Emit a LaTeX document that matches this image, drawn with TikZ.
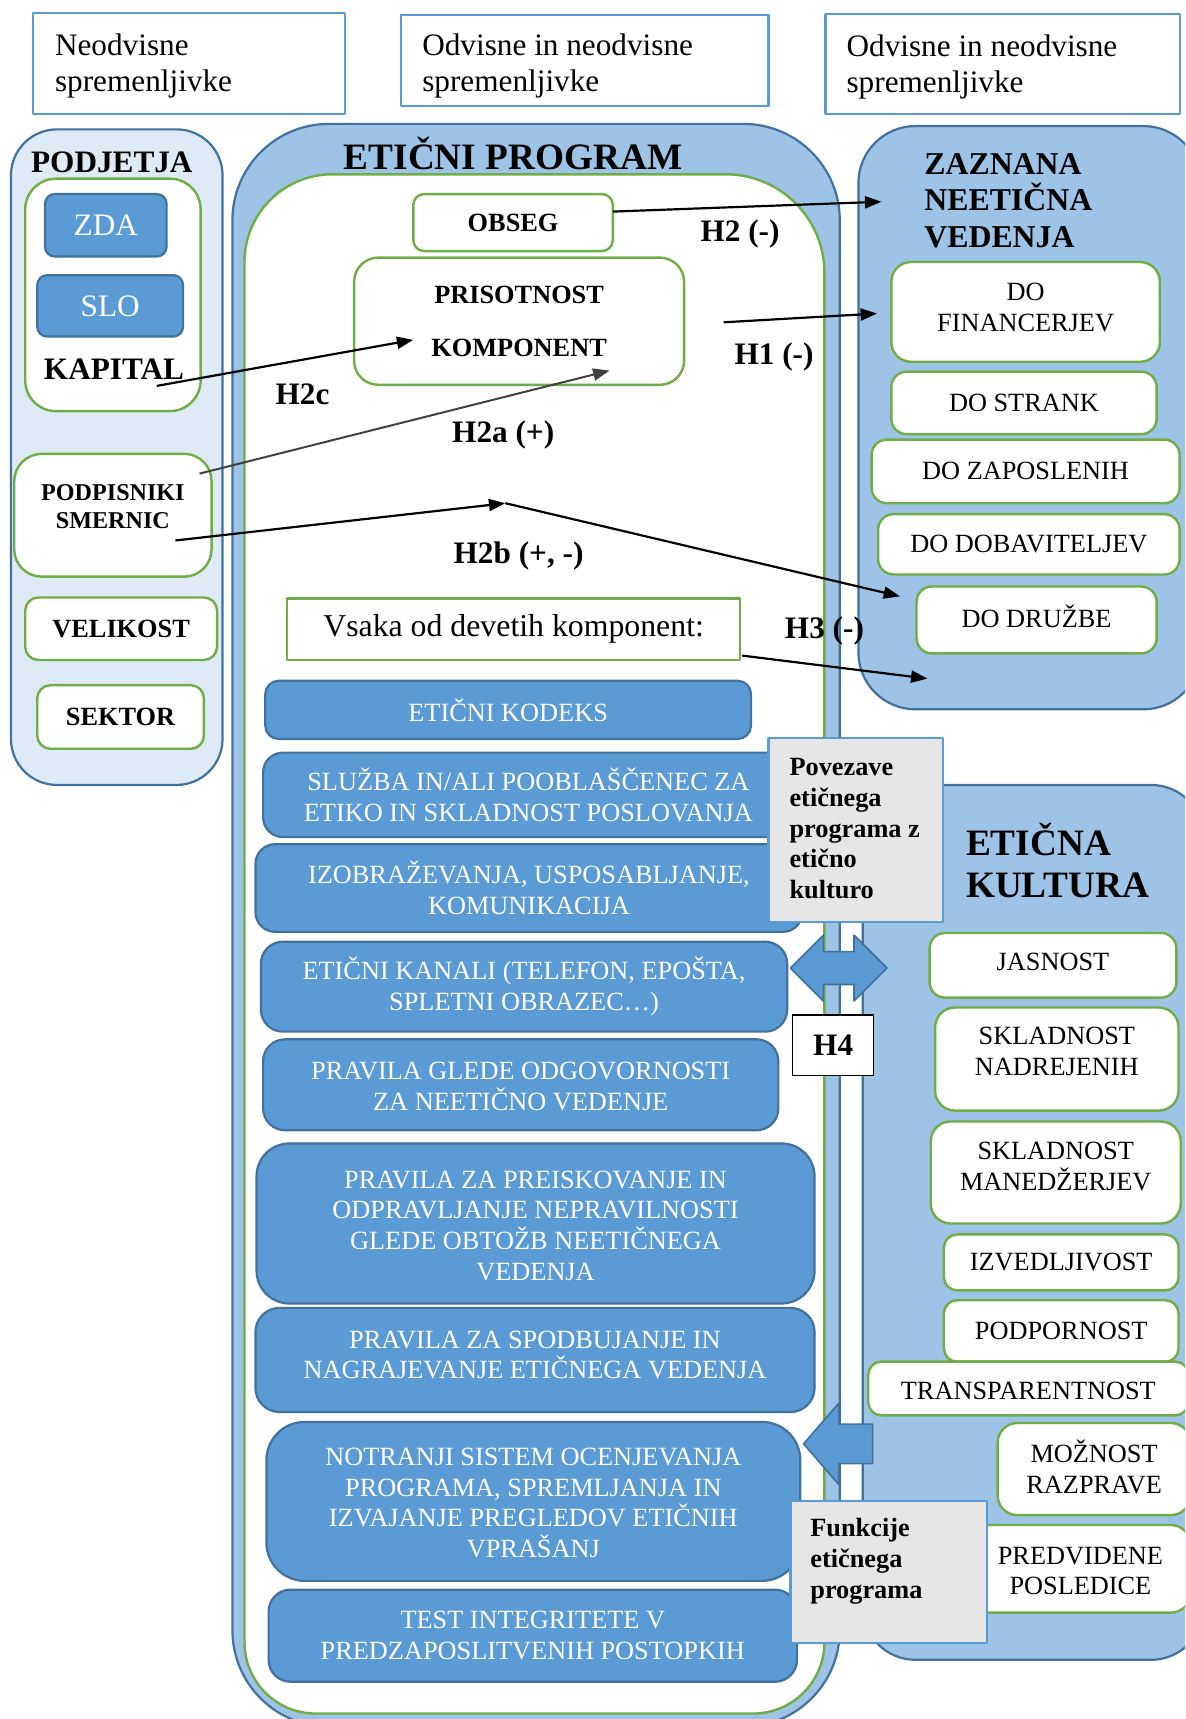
\documentclass[tikz,border=0pt]{standalone}
\usepackage{fontspec}
\setmainfont{Liberation Serif}
\usetikzlibrary{arrows.meta}
\definecolor{bfill}{HTML}{5B9BD5}
\definecolor{bdark}{HTML}{41719C}
\definecolor{pfill}{HTML}{9DC3E6}
\definecolor{lfill}{HTML}{DEEBF7}
\definecolor{gline}{HTML}{70AD47}
\definecolor{gfill}{HTML}{E7E6E6}
\newcommand\myfs[2]{\fontsize{#1}{#2}\selectfont}
\tikzset{
 topbox/.style={draw=bfill, line width=2pt, fill=white, inner sep=0pt},
 toptext/.style={anchor=west, align=left, inner sep=0pt, font=\myfs{28.5}{33}},
 panel/.style={fill=pfill, draw=bdark, line width=2pt},
 gbox/.style={draw=gline, line width=2.2pt, fill=white, inner sep=0pt, align=center},
 bbox/.style={fill=bfill, draw=bdark, line width=2pt, text=white, inner sep=0pt, align=center, font=\myfs{24}{28}},
 greybox/.style={fill=gfill, draw=bfill, line width=2pt, inner sep=0pt},
 lab/.style={font=\bfseries\myfs{28.5}{33}, inner sep=0pt},
 conn/.style={line width=2pt, -{Triangle[length=15pt,width=11pt]}},
 sz/.style 2 args={minimum width=#1pt, minimum height=#2pt},
 rtext/.style={font=\myfs{24}{28}, align=center},
 btext/.style={font=\bfseries\myfs{24}{28}},
}
\begin{document}
\begin{tikzpicture}[x=1pt, y=-1pt, line join=round]
\useasboundingbox (0,0) rectangle (1081,1568);
\clip (0,0) rectangle (1081,1568);
\fill[white] (0,0) rectangle (1081,1568);

% ---------- top boxes
\node[topbox, sz={285}{92}] (t1) at (172.5,58) {};
\node[toptext] (t1t) at (50,60) {Neodvisne\\spremenljivke};
\node[topbox, sz={335}{83}] (t2) at (533.5,55.5) {};
\node[toptext] (t2t) at (385,60.5) {Odvisne in neodvisne\\spremenljivke};
\node[topbox, sz={323}{91}] (t3) at (914.5,58.5) {};
\node[toptext] (t3t) at (772,61) {Odvisne in neodvisne\\spremenljivke};

% ---------- PODJETJA
\draw[fill=lfill, draw=bdark, line width=2pt, rounded corners=42pt] (10,118) rectangle (203,716);
\node[lab] (podj) at (102,148) {PODJETJA};
\node[gbox, sz={160}{212}, rounded corners=28pt] (kapbox) at (103,269) {};
\node[bbox, sz={111}{57}, rounded corners=9pt, font=\myfs{28.5}{33}] (zda) at (96.5,205.5) {ZDA};
\node[bbox, sz={133}{56}, rounded corners=9pt, font=\myfs{28.5}{33}] (slo) at (100.5,279) {SLO};
\node[lab] (kap) at (104,337) {KAPITAL};
\node[gbox, sz={180}{112}, rounded corners=25pt] (podp) at (103,470) {};
\node[font=\bfseries\myfs{22}{25}, align=center, inner sep=0pt] (podpt) at (103,462) {PODPISNIKI\\SMERNIC};
\node[gbox, sz={175}{57}, rounded corners=12pt, btext] (vel) at (110.5,573.5) {VELIKOST};
\node[gbox, sz={152}{58}, rounded corners=12pt, btext] (sek) at (110,654) {SEKTOR};

% ---------- ETICNI PROGRAM
\draw[panel, rounded corners=88pt] (212,113) rectangle (766,1575);
\path[fill=white, draw=gline, line width=2.2pt]
  (223,239) arc[start angle=180, end angle=90, radius=80pt] -- (662,159)
  arc[start angle=90, end angle=0, radius=90pt] -- (752,1498)
  arc[start angle=0, end angle=-90, radius=65pt] -- (288,1563)
  arc[start angle=-90, end angle=-180, radius=65pt] -- cycle;
\node[font=\bfseries\myfs{34}{38}, inner sep=0pt] (ept) at (468,140) {ETIČNI PROGRAM};
\node[gbox, sz={182}{52}, rounded corners=10pt, btext] (obseg) at (468,203) {OBSEG};
\node[gbox, sz={301}{116}, rounded corners=22pt, font=\bfseries\myfs{24}{48}] (pris) at (473.5,293) {PRISOTNOST\\KOMPONENT};
\node[draw=gline, line width=2.2pt, fill=white, sz={413}{56}, inner sep=0pt, font=\myfs{29}{33}] (vsaka) at (468.5,574) {Vsaka od devetih komponent:};

\node[bbox, sz={443}{53}, rounded corners=12pt] (k1) at (463.5,647.5) {ETIČNI KODEKS};
\node[bbox, sz={490}{77}, rounded corners=18pt] (k2) at (485,725) {\hspace*{-6pt}SLUŽBA IN/ALI POOBLAŠČENEC ZA\\\hspace*{-6pt}ETIKO IN SKLADNOST POSLOVANJA};
\node[bbox, sz={499}{80}, rounded corners=18pt] (k3) at (482.5,810) {IZOBRAŽEVANJA, USPOSABLJANJE,\\KOMUNIKACIJA};
\node[bbox, sz={480}{82}, rounded corners=20pt] (k4) at (478,900) {ETIČNI KANALI (TELEFON, EPOŠTA,\\SPLETNI OBRAZEC…)};
\node[bbox, sz={470}{83}, rounded corners=20pt] (k5) at (475,989.5) {};
\node[rtext, text=white, inner sep=0pt] (k5t) at (475,991) {PRAVILA GLEDE ODGOVORNOSTI\\ZA NEETIČNO VEDENJE};
\node[bbox, sz={509}{146}, rounded corners=30pt] (k6) at (488.5,1116) {};
\node[rtext, text=white, inner sep=0pt] (k6t) at (488.5,1118) {PRAVILA ZA PREISKOVANJE IN\\ODPRAVLJANJE NEPRAVILNOSTI\\GLEDE OBTOŽB NEETIČNEGA\\VEDENJA};
\node[bbox, sz={510}{95}, rounded corners=22pt] (k7) at (488,1240.5) {};
\node[rtext, text=white, inner sep=0pt] (k7t) at (488,1236) {PRAVILA ZA SPODBUJANJE IN\\NAGRAJEVANJE ETIČNEGA VEDENJA};
\node[bbox, sz={487}{145}, rounded corners=35pt] (k8) at (486.5,1369.5) {};
\node[rtext, text=white, inner sep=0pt] (k8t) at (486.5,1371) {NOTRANJI SISTEM OCENJEVANJA\\PROGRAMA, SPREMLJANJA IN\\IZVAJANJE PREGLEDOV ETIČNIH\\VPRAŠANJ};
\node[bbox, sz={482}{84}, rounded corners=20pt] (k9) at (486,1492) {TEST INTEGRITETE V\\PREDZAPOSLITVENIH POSTOPKIH};

% ---------- ZAZNANA NEETICNA VEDENJA
\draw[panel, rounded corners=52pt] (783,115) rectangle (1095,647);
\node[anchor=west, align=left, font=\bfseries\myfs{29}{33.5}, inner sep=0pt] (zt) at (843,183) {ZAZNANA\\NEETIČNA\\VEDENJA};
\node[gbox, sz={245}{91}, rounded corners=18pt] (d1) at (935.5,284.5) {};
\node[rtext, inner sep=0pt] (d1t) at (935.5,280.5) {DO\\FINANCERJEV};
\node[gbox, sz={242}{57}, rounded corners=14pt, rtext] (d2) at (934,367.5) {DO STRANK};
\node[gbox, sz={281}{58}, rounded corners=14pt, rtext] (d3) at (935.5,430) {DO ZAPOSLENIH};
\node[gbox, sz={275}{55}, rounded corners=14pt, rtext] (d4) at (938.5,496.5) {DO DOBAVITELJEV};
\node[gbox, sz={219}{61}, rounded corners=14pt] (d5) at (945.5,565.5) {};
\node[rtext, inner sep=0pt] (d5t) at (945.5,562) {DO DRUŽBE};

% ---------- ETICNA KULTURA
\draw[panel, rounded corners=48pt] (787,716) rectangle (1098,1514);
\node[anchor=west, align=left, font=\bfseries\myfs{34}{39}, inner sep=0pt] (ekt) at (881,785) {ETIČNA\\KULTURA};
\node[gbox, sz={225}{59}, rounded corners=14pt] (e1) at (960.5,880.5) {};
\node[rtext, inner sep=0pt] (e1t) at (960.5,877) {JASNOST};
\node[gbox, sz={222}{94}, rounded corners=18pt] (e2) at (964,966) {};
\node[rtext, inner sep=0pt] (e2t) at (964,959) {SKLADNOST\\NADREJENIH};
\node[gbox, sz={228}{93}, rounded corners=18pt] (e3) at (963,1069.5) {};
\node[rtext, inner sep=0pt] (e3t) at (963,1064) {SKLADNOST\\MANEDŽERJEV};
\node[gbox, sz={214}{51}, rounded corners=12pt, rtext] (e4) at (968,1151.5) {IZVEDLJIVOST};
\node[gbox, sz={214}{56}, rounded corners=12pt, rtext] (e5) at (968,1214) {PODPORNOST};
\node[gbox, sz={292}{49}, rounded corners=12pt] (e6) at (938,1266.5) {};
\node[rtext, inner sep=0pt] (e6t) at (938,1269) {TRANSPARENTNOST};
\node[gbox, sz={176}{84}, rounded corners=18pt] (e7) at (998,1340) {};
\node[rtext, inner sep=0pt] (e7t) at (998,1338) {MOŽNOST\\RAZPRAVE};
\node[gbox, sz={201}{80}, rounded corners=18pt] (e8) at (985.5,1431) {};
\node[rtext, inner sep=0pt] (e8t) at (985.5,1433) {PREDVIDENE\\POSLEDICE};

% ---------- block arrows
\draw[fill=bfill, draw=bdark, line width=1.5pt]
  (721,883) -- (751,853) -- (751,868) -- (779,868) -- (779,853) -- (809,883)
  -- (779,913) -- (779,898) -- (751,898) -- (751,913) -- cycle;
\draw[fill=bfill, draw=bdark, line width=1.5pt]
  (733,1317) -- (765,1280) -- (765,1299) -- (796,1299) -- (796,1335)
  -- (765,1335) -- (765,1354) -- cycle;

% ---------- grey boxes and H4
\node[greybox, sz={159}{168}] (pov) at (780.5,757) {};
\node[anchor=west, align=left, btext, inner sep=0pt] (povt) at (720,756) {Povezave\\etičnega\\programa z\\etično\\kulturo};
\node[greybox, sz={179}{130}] (fun) at (810.5,1434) {};
\node[anchor=west, align=left, btext, inner sep=0pt] (funt) at (739,1424) {Funkcije\\etičnega\\programa};
\node[draw=black, line width=1.3pt, fill=white, sz={74}{55}, inner sep=0pt, lab] (h4) at (760,953.5) {H4};

% ---------- connectors
\coordinate (h2cS) at (143,352);
\coordinate (h2cE) at (377,310);
\coordinate (h2aS) at (182,432);
\coordinate (h2aE) at (556,338);
\coordinate (h2bS) at (160,493);
\coordinate (h2bM) at (461,459);
\coordinate (h2bE) at (821,544);
\coordinate (h2S) at (559,193);
\coordinate (h2E) at (804,184);
\coordinate (h1S) at (660,294);
\coordinate (h1E) at (800,286);
\coordinate (h3S) at (677,598);
\coordinate (h3E) at (846,619);
\draw[conn] (h2cS) -- (h2cE);
\draw[conn, draw=black!75, fill=black!75, line width=1.8pt] (h2aS) -- (h2aE);
\draw[conn] (h2bS) -- (h2bM);
\draw[conn] (h2bM) -- (h2bE);
\draw[conn] (h2S) -- (h2E);
\draw[conn] (h1S) -- (h1E);
\draw[conn] (h3S) -- (h3E);

% ---------- labels
\node[lab] (lh2c) at (276,360) {H2c};
\node[lab] (lh2a) at (459,397) {H2a (+)};
\node[lab] (lh2b) at (473,507) {H2b (+, -)};
\node[lab] (lh2) at (675,213) {H2 (-)};
\node[lab] (lh1) at (706,326) {H1 (-)};
\node[lab] (lh3) at (752,576) {H3 (-)};
\end{tikzpicture}
\end{document}
